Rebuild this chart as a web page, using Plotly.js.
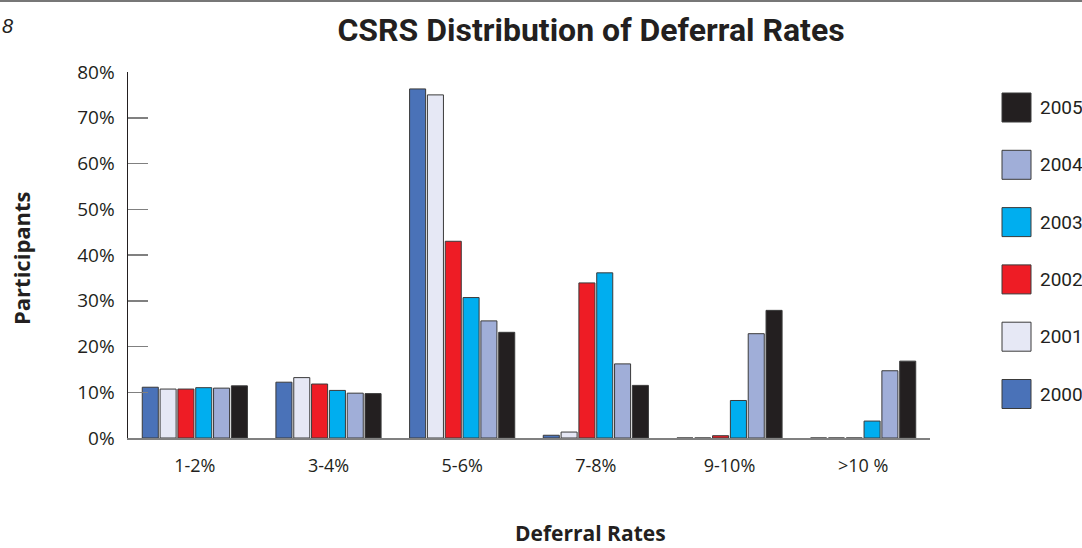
<!DOCTYPE html>
<html><head><meta charset="utf-8">
<script src="https://cdn.plot.ly/plotly-3.0.1.min.js"></script>
<style>html,body{margin:0;padding:0;background:#fff;}#chart{width:1082px;height:548px;}</style>
</head><body><div id="chart"></div>
<script>
const categories = ["1-2%", "3-4%", "5-6%", "7-8%", "9-10%", ">10 %"];
const seriesNames = ["2000", "2001", "2002", "2003", "2004", "2005"];
const v2000 = [11.1, 12.2, 76.3, 0.6, 0.0, 0.0];
const v2001 = [10.7, 13.2, 75.0, 1.3, 0.0, 0.0];
const v2002 = [10.7, 11.8, 43.0, 33.9, 0.5, 0.0];
const v2003 = [11.0, 10.4, 30.7, 36.1, 8.2, 3.7];
const v2004 = [10.9, 9.8, 25.6, 16.2, 22.8, 14.7];
const v2005 = [11.4, 9.7, 23.1, 11.5, 27.9, 16.8];
const seriesValues = [v2000, v2001, v2002, v2003, v2004, v2005];
const colors = ["#4a72b8", "#e6e8f5", "#ee1c25", "#00aeef", "#a0aed8", "#231f20"];
const yTickVals = [0, 10, 20, 30, 40, 50, 60, 70, 80];
const yTickText = ["0%", "10%", "20%", "30%", "40%", "50%", "60%", "70%", "80%"];

const WIDE = "'Open Sans', 'Noto Sans', sans-serif";
const BOLD = "Roboto, 'Open Sans', sans-serif";
const NARROW = "Roboto, sans-serif";
const INK = "#231f20";

const traces = seriesNames.map((n, i) => ({
  type: "bar", name: n, x: categories, y: seriesValues[i],
  marker: {color: colors[i], line: {color: "#3a3a3a", width: 1}},
  showlegend: false, hoverinfo: "skip"
}));

// pixel -> paper helpers (plot area: x 128..930, y 72..438)
const px = x => (x - 128) / 802;
const py = y => 1 - (y - 72) / 366;

const shapes = [];
const annotations = [];
const legTop = 93, legStep = 57.3, sq = 29;
seriesNames.slice().reverse().forEach((n, k) => {
  const i = seriesNames.length - 1 - k;
  const y0 = legTop + k * legStep;
  shapes.push({type: "rect", xref: "paper", yref: "paper",
    x0: px(1002), x1: px(1002 + sq), y0: py(y0 + sq), y1: py(y0),
    fillcolor: colors[i], line: {color: "#3a3a3a", width: 1}});
  annotations.push({xref: "paper", yref: "paper", x: px(1038), y: py(y0 + sq / 2),
    xanchor: "left", yanchor: "middle", showarrow: false, text: n,
    font: {family: NARROW, size: 19, color: INK}});
});
// page number and top border
annotations.push({xref: "paper", yref: "paper", x: px(0), y: py(26), xanchor: "left", yanchor: "middle",
  showarrow: false, text: "<i>8</i>", font: {family: "'Liberation Sans', sans-serif", size: 20, color: INK}});
shapes.push({type: "line", xref: "paper", yref: "paper", x0: px(0), x1: px(1082),
  y0: py(1), y1: py(1), line: {color: "#777", width: 2}});
// axis titles
annotations.push({xref: "paper", yref: "paper", x: px(590), y: py(533), xanchor: "center", yanchor: "middle",
  showarrow: false, text: "<b>Deferral Rates</b>", font: {family: WIDE, size: 21, color: INK}});
annotations.push({xref: "paper", yref: "paper", x: px(21), y: py(258), xanchor: "center", yanchor: "middle",
  showarrow: false, textangle: -90, text: "<b>Participants</b>", font: {family: WIDE, size: 22, color: INK}});

const layout = {
  width: 1082, height: 548,
  margin: {l: 128, r: 152, t: 72, b: 110},
  paper_bgcolor: "#fff", plot_bgcolor: "#fff",
  barmode: "group", bargap: 0.2, bargroupgap: 0.1,
  title: {text: "<b>CSRS Distribution of Deferral Rates</b>", x: px(591), xanchor: "center", y: 1 - 30 / 548, yanchor: "middle",
    xref: "paper", font: {family: BOLD, size: 32, color: INK}},
  xaxis: {
    showline: true, linecolor: "#808080", linewidth: 2, ticks: "",
    tickfont: {family: WIDE, size: 18, color: INK}, ticklabelstandoff: 10,
    fixedrange: true
  },
  yaxis: {
    range: [0, 80], tickvals: yTickVals, ticktext: yTickText,
    showline: true, linecolor: INK, linewidth: 1.5, showgrid: false, zeroline: false,
    ticks: "inside", ticklen: 20, tickcolor: "#808080", tickwidth: 1.5,
    tickfont: {family: WIDE, size: 19, color: INK}, ticklabelstandoff: 8,
    fixedrange: true
  },
  shapes: shapes, annotations: annotations,
  showlegend: false
};
Plotly.newPlot("chart", traces, layout, {displayModeBar: false, staticPlot: true});
</script></body></html>
